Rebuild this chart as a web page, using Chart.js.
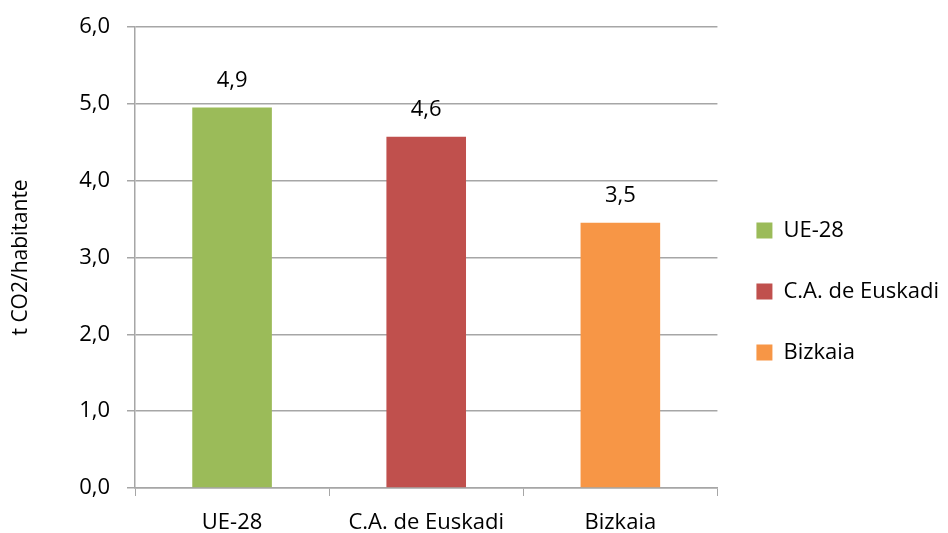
<!DOCTYPE html>
<html>
<head>
<meta charset="utf-8">
<script src="https://cdn.jsdelivr.net/npm/chart.js@4/dist/chart.umd.min.js"></script>
<style>
  html, body { margin: 0; padding: 0; background: #fff; }
  #wrap { width: 948px; height: 533px; }
</style>
</head>
<body>
<div id="wrap"><canvas id="co2-chart" width="948" height="533"></canvas></div>
<script>
// Chart data
const categories = ["UE-28", "C.A. de Euskadi", "Bizkaia"];
const values = [4.95, 4.57, 3.45];
const valueLabels = ["4,9", "4,6", "3,5"];
const barColors = ["#9BBB59", "#C0504D", "#F79646"];
const yTicks = [0, 1, 2, 3, 4, 5, 6];
const yTitle = "t CO2/habitante";

const fontFamily = "'Open Sans', Lato, sans-serif";
const textColor = "#000";
const gridColor = "#a6a6a6";

Chart.defaults.font.family = fontFamily;
Chart.defaults.color = textColor;

// Value labels above bars
const barValueLabels = {
	id: "barValueLabels",
	afterDatasetsDraw(chart) {
		const ctx = chart.ctx;
		const meta = chart.getDatasetMeta(0);
		ctx.save();
		ctx.font = "22px " + fontFamily;
		ctx.fillStyle = textColor;
		ctx.textAlign = "center";
		ctx.textBaseline = "middle";
		meta.data.forEach(function(bar, i) {
			ctx.fillText(valueLabels[i], bar.x, bar.y - 27);
		});
		ctx.restore();
	}
};

const chartData = {
	labels: categories,
	datasets: [{
		data: values,
		backgroundColor: barColors,
		borderWidth: 0,
		categoryPercentage: 1,
		barPercentage: 0.41
	}]
};

const chartOptions = {
	responsive: false,
	animation: false,
	layout: { padding: { top: 26, right: -1, left: 8, bottom: 0 } },
	plugins: {
		tooltip: { enabled: false },
		legend: {
			position: "right",
			title: {
				display: true,
				text: " ",
				font: { size: 10 },
				padding: { top: 6, bottom: 6 }
			},
			labels: {
				boxWidth: 16,
				boxHeight: 16,
				padding: 39,
				font: { size: 22 },
				generateLabels: function() {
					return categories.map(function(c, i) {
						return { text: c, fillStyle: barColors[i], strokeStyle: barColors[i], lineWidth: 0, index: i };
					});
				}
			}
		}
	},
	scales: {
		x: {
			grid: {
				display: true,
				drawOnChartArea: false,
				drawTicks: true,
				tickLength: 8,
				color: gridColor,
				offset: true
			},
			border: { color: gridColor, width: 1.5 },
			ticks: { font: { size: 22 }, padding: 14 },
			afterFit: function(scale) { scale.height = 45; }
		},
		y: {
			min: 0,
			max: 6,
			afterBuildTicks: function(scale) {
				scale.ticks = yTicks.map(function(v) { return { value: v }; });
			},
			ticks: {
				font: { size: 22, lineHeight: 0.9 },
				padding: 17,
				callback: function(v) { return v.toFixed(1).replace(".", ","); }
			},
			grid: { color: gridColor, lineWidth: 1.5, tickLength: 8 },
			border: { color: gridColor, width: 1.5 },
			title: {
				display: true,
				text: yTitle,
				font: { size: 21 },
				padding: { top: 0, bottom: 22 }
			},
			afterFit: function(scale) { scale.width = 127; }
		}
	}
};

new Chart(document.getElementById("co2-chart"), {
	type: "bar",
	data: chartData,
	options: chartOptions,
	plugins: [barValueLabels]
});
</script>
</body>
</html>
